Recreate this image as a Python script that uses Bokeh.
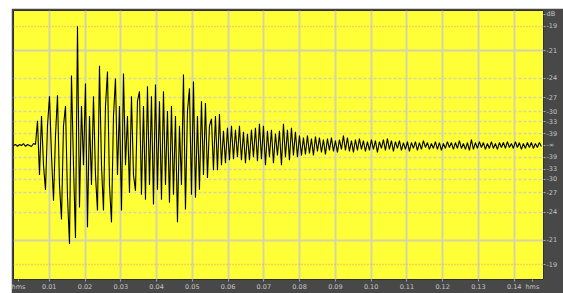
import numpy as np
from bokeh.plotting import figure
from bokeh.models import FixedTicker, Grid, ColumnDataSource, Range1d
from bokeh.embed import file_html
from bokeh.resources import INLINE

# ---- data -------------------------------------------------------------
SAMPLE_RATE = 1788.5          # samples per second of the displayed trace
FULL_SCALE = 1078.0           # amplitude units per full scale (0 dB)

amplitude = [
    0, 1, -1, 1, 0, 2, -1, 1, 0, -1,
    2, 1, 25, -30, 30, -20, -45, 20, 50, -10,
    -56, 10, 51, -40, -75, 20, 40, -52, -100, 71,
    -20, -94, 121, -63, 40, -20, 63, -83, 30, -40,
    50, -30, -66, 81, -20, -66, 40, 75, -40, -78,
    30, 68, -30, 40, -66, 73, -20, 30, -48, 50,
    -30, -46, 45, 55, -50, 40, -55, 60, -40, 50,
    -60, 62, -45, 45, -55, 55, -40, 35, -58, 40,
    -50, 30, -78, 20, -40, 72, -65, 35, 58, -50,
    65, -53, 30, -45, 45, -30, 43, -33, 20, 27,
    -25, 30, -25, 32, -20, 15, -18, 18, -15, 20,
    -14, 16, -12, 20, -15, 14, -18, 12, -15, 16,
    -12, 18, -16, 22, -14, 20, -20, 15, -12, 16,
    -18, 12, -10, 15, -20, 22, -12, 16, -15, 18,
    -10, 14, -12, 10, -10, 8, -9, 10, -8, 7,
    -10, 9, -6, 8, -7, 6, -9, 7, -5, 8,
    -6, 5, -7, 6, -4, 10, -5, 8, -6, 5,
    -7, 6, -5, 7, -4, 5, -6, 4, -5, 6,
    -4, 5, -7, 4, -3, 6, -5, 7, -4, 5,
    -6, 4, -3, 5, -5, 3, -4, 4, -6, 3,
    -3, 4, -5, 3, -4, 5, -2, 3, -4, 2,
    -3, 4, -4, 3, -5, 2, -3, 4, -2, 3,
    -4, 3, -3, 5, -3, 2, -4, 3, -5, 6,
    -4, 3, -3, 4, -2, 3, -4, 2, -3, 4,
    -3, 2, -4, 3, -2, 3, -3, 4, -2, 2,
    -3, 4, -2, 3, -4, 2, -3, 3, -2, 3,
    -3, 2, -2, 3, -1,
]

time_ticks = [0.01, 0.02, 0.03, 0.04, 0.05, 0.06, 0.07,
              0.08, 0.09, 0.10, 0.11, 0.12, 0.13, 0.14]
time_labels = ["0.01", "0.02", "0.03", "0.04", "0.05", "0.06", "0.07",
               "0.08", "0.09", "0.10", "0.11", "0.12", "0.13", "0.14"]
time_unit_label = "hms"
time_unit_pos = [0.0014, 0.1451]

db_levels = [-19, -21, -24, -27, -30, -33, -39]
db_unit_label = "dB"
db_unit_pos = 133.0

time_range = (0.0, 0.1482)
amp_range = (-136.0, 137.0)

# ---- build ------------------------------------------------------------
t = np.arange(len(amplitude)) / SAMPLE_RATE
src = ColumnDataSource(dict(t=t, a=np.array(amplitude, dtype=float)))

YELLOW = "#ffff38"
PANEL = "#484848"
LABEL = "#c4c4c4"
GRID = "#d4d4a4"

p = figure(width=552, height=285, output_backend="svg", toolbar_location=None,
           x_range=Range1d(*time_range), y_range=Range1d(*amp_range),
           y_axis_location="right", x_axis_location="below",
           min_border_left=2, min_border_top=2, min_border_right=20,
           min_border_bottom=10)
p.margin = (8, 0, 0, 11)
p.background_fill_color = YELLOW
p.border_fill_color = PANEL
p.outline_line_color = "#2c2c2c"
p.outline_line_width = 1

# x axis
xt = list(time_ticks) + list(time_unit_pos)
p.xaxis.ticker = FixedTicker(ticks=xt)
ov = {v: l for v, l in zip(time_ticks, time_labels)}
for v in time_unit_pos:
    ov[v] = time_unit_label
p.xaxis.major_label_overrides = ov

# y axis (dB labels on linear amplitude)
pos_vals = [round(FULL_SCALE * 10 ** (d / 20.0), 1) for d in db_levels]
yt = []
yov = {}
for d, v in zip(db_levels, pos_vals):
    yt += [v, -v]
    yov[v] = str(d)
    yov[-v] = str(d)
yt += [0.0, db_unit_pos]
yov[0.0] = "-\u221e"
yov[db_unit_pos] = db_unit_label
p.yaxis.ticker = FixedTicker(ticks=yt)
p.yaxis.major_label_overrides = yov

for ax in (p.xaxis[0], p.yaxis[0]):
    ax.axis_line_color = None
    ax.major_tick_line_color = "#a8a8a8"
    ax.major_tick_out = 2
    ax.major_tick_in = 0
    ax.minor_tick_line_color = None
    ax.major_label_text_color = LABEL
    ax.major_label_text_font = "DejaVu Sans"
    ax.major_label_text_font_size = "6.5px"
    ax.major_label_standoff = 1
    ax.axis_label_standoff = 0

# grids
p.xgrid.ticker = FixedTicker(ticks=time_ticks)
p.xgrid.grid_line_color = GRID
p.xgrid.grid_line_width = 2

solid_y = [pos_vals[1], -pos_vals[1]]
p.ygrid.ticker = FixedTicker(ticks=solid_y)
p.ygrid.grid_line_color = GRID
p.ygrid.grid_line_width = 2

pink = Grid(dimension=1, ticker=FixedTicker(ticks=[pos_vals[0], -pos_vals[0]]),
            grid_line_color="#e8a878", grid_line_width=1.5, grid_line_dash="1 2")
p.add_layout(pink)
others = []
for v in pos_vals[2:]:
    others += [v, -v]
dotg = Grid(dimension=1, ticker=FixedTicker(ticks=others),
            grid_line_color=GRID, grid_line_width=1.5, grid_line_dash="3 2")
p.add_layout(dotg)

p.line("t", "a", source=src, line_color="#000000", line_width=1.1)

open("out.html", "w").write(file_html(p, INLINE))
